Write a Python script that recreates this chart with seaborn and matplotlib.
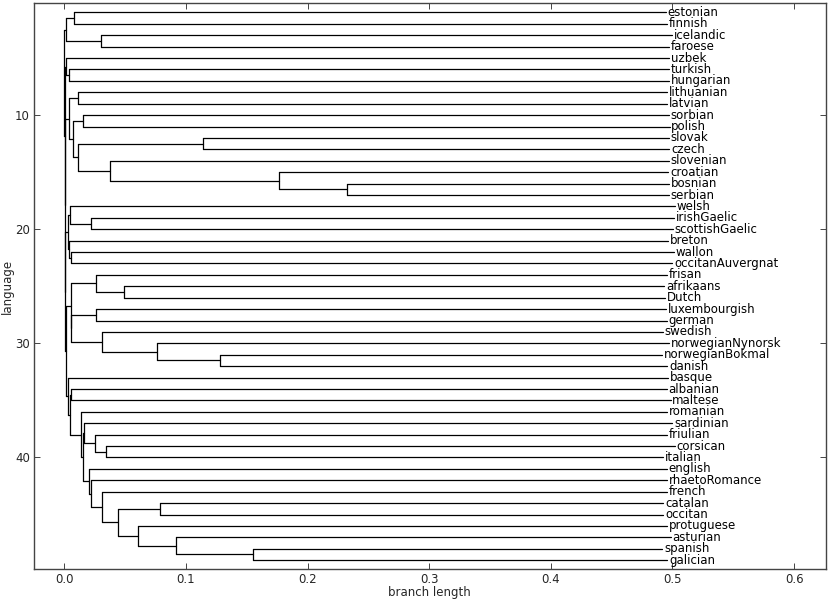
import numpy as np
import pandas as pd
import matplotlib
matplotlib.use("Agg")
import matplotlib.pyplot as plt
import seaborn as sns

# ---- data -------------------------------------------------------------
leaves = ["estonian", "finnish", "icelandic", "faroese", "uzbek", "turkish",
          "hungarian", "lithuanian", "latvian", "sorbian", "polish", "slovak",
          "czech", "slovenian", "croatian", "bosnian", "serbian", "welsh",
          "irishGaelic", "scottishGaelic", "breton", "wallon",
          "occitanAuvergnat", "frisan", "afrikaans", "Dutch", "luxembourgish",
          "german", "swedish", "norwegianNynorsk", "norwegianBokmal", "danish",
          "basque", "albanian", "maltese", "romanian", "sardinian", "friulian",
          "corsican", "italian", "english", "rhaetoRomance", "french",
          "catalan", "occitan", "protuguese", "asturian", "spanish", "galician"]

leaf_depth = [0.4943, 0.4957, 0.4995, 0.4973, 0.4973, 0.4973, 0.4973, 0.4959,
              0.4959, 0.4971, 0.4976, 0.4973, 0.4975, 0.4971, 0.4965, 0.4971,
              0.4971, 0.5020, 0.5015, 0.5006, 0.4962, 0.5014, 0.4998, 0.4959,
              0.4934, 0.4937, 0.4945, 0.4951, 0.4924, 0.4973, 0.4918, 0.4959,
              0.4963, 0.4954, 0.4984, 0.4954, 0.5000, 0.4957, 0.5017, 0.4925,
              0.4951, 0.4957, 0.4959, 0.4924, 0.4924, 0.4959, 0.4987, 0.4918,
              0.4957]

node_names = ["ef", "if", "g1", "th", "g2", "ll", "sp", "sc", "bs", "cbs",
              "scbs", "wsl", "sl", "g3", "is", "cel", "wo", "bwo", "g4", "ad",
              "fad", "lg", "bd", "nbd", "nor", "lgn", "g5", "am", "ci", "fci",
              "sfci", "sg", "asg", "pasg", "co", "ib", "fr", "rr", "en", "se",
              "rom", "x", "b", "n5", "n4", "n3", "n2", "root"]

node_children = [("estonian", "finnish"), ("icelandic", "faroese"), ("ef", "if"),
                 ("turkish", "hungarian"), ("uzbek", "th"),
                 ("lithuanian", "latvian"), ("sorbian", "polish"),
                 ("slovak", "czech"), ("bosnian", "serbian"), ("croatian", "bs"),
                 ("slovenian", "cbs"), ("sc", "scbs"), ("sp", "wsl"), ("ll", "sl"),
                 ("irishGaelic", "scottishGaelic"), ("welsh", "is"),
                 ("wallon", "occitanAuvergnat"), ("breton", "wo"), ("cel", "bwo"),
                 ("afrikaans", "Dutch"), ("frisan", "ad"),
                 ("luxembourgish", "german"), ("norwegianBokmal", "danish"),
                 ("norwegianNynorsk", "bd"), ("swedish", "nbd"), ("lg", "nor"),
                 ("fad", "lgn"), ("albanian", "maltese"), ("corsican", "italian"),
                 ("friulian", "ci"), ("sardinian", "fci"), ("spanish", "galician"),
                 ("asturian", "sg"), ("protuguese", "asg"), ("catalan", "occitan"),
                 ("co", "pasg"), ("french", "ib"), ("rhaetoRomance", "fr"),
                 ("english", "rr"), ("sfci", "en"), ("romanian", "se"),
                 ("am", "rom"), ("basque", "x"), ("g5", "b"), ("g4", "n5"),
                 ("g3", "n4"), ("g2", "n3"), ("g1", "n2")]

node_depth = [0.0082, 0.0299, 0.0012, 0.0035, 0.0013, 0.0110, 0.0156, 0.1137,
              0.2324, 0.1762, 0.0373, 0.0110, 0.0071, 0.0041, 0.0216, 0.0047,
              0.0058, 0.0041, 0.0030, 0.0490, 0.0260, 0.0260, 0.1277, 0.0762,
              0.0307, 0.0057, 0.0054, 0.0058, 0.0339, 0.0249, 0.0162, 0.1548,
              0.0918, 0.0603, 0.0783, 0.0441, 0.0307, 0.0222, 0.0200, 0.0154,
              0.0140, 0.0047, 0.0027, 0.0010, 0.0007, 0.0004, 0.0002, 0.0000]

# ---- tree layout (Bio.Phylo style) ------------------------------------
xpos = dict(zip(leaves, leaf_depth))
xpos.update(dict(zip(node_names, node_depth)))
ypos = {name: i + 1 for i, name in enumerate(leaves)}
for name, kids in zip(node_names, node_children):
    ypos[name] = (ypos[kids[0]] + ypos[kids[-1]]) / 2.0

rows = []
seg = 0
for name, kids in zip(node_names, node_children):
    # vertical connector of this clade
    rows += [(seg, xpos[name], ypos[kids[0]]), (seg, xpos[name], ypos[kids[-1]])]
    seg += 1
    # horizontal branches to each child
    for k in kids:
        rows += [(seg, xpos[name], ypos[k]), (seg, xpos[k], ypos[k])]
        seg += 1
segments = pd.DataFrame(rows, columns=["seg", "x", "y"])

# ---- style --------------------------------------------------------------
sns.set_style("ticks", {
    "xtick.direction": "in", "ytick.direction": "in",
    "axes.edgecolor": "#444444",
})
plt.rcParams.update({
    "font.family": ["DejaVu Sans"],
    "font.size": 8.5,
    "xtick.top": True, "ytick.right": True,
    "xtick.major.size": 4, "ytick.major.size": 4,
    "xtick.major.width": 0.6, "ytick.major.width": 0.6,
    "xtick.labelsize": 8.5, "ytick.labelsize": 8.5,
    "axes.labelsize": 8.5, "axes.linewidth": 1.0,
    "xtick.major.pad": 2.5, "ytick.major.pad": 3,
})

fig = plt.figure(figsize=(8.30, 5.99), dpi=100)
ax = fig.add_axes([34 / 830, 1 - 569.3 / 599, (825.7 - 34) / 830, (569.3 - 3.3) / 599])

sns.lineplot(data=segments, x="x", y="y", units="seg", estimator=None,
             sort=False, color="black", linewidth=0.9, ax=ax, legend=False)

for name in leaves:
    ax.annotate(name, (xpos[name], ypos[name]), xytext=(1.2, 0),
                textcoords="offset points", va="center", ha="left",
                fontsize=8.5, color="black")

ax.set_xlim(-0.025, 0.626)
ax.set_ylim(49.8, 0.2)
ax.set_xticks([0.0, 0.1, 0.2, 0.3, 0.4, 0.5, 0.6])
ax.set_xticklabels(["0.0", "0.1", "0.2", "0.3", "0.4", "0.5", "0.6"])
ax.set_yticks([10, 20, 30, 40])
ax.set_xlabel("branch length", labelpad=0)
ax.set_ylabel("language", labelpad=1)
for s in ax.spines.values():
    s.set_visible(True)

fig.savefig("out.png", dpi=100)
